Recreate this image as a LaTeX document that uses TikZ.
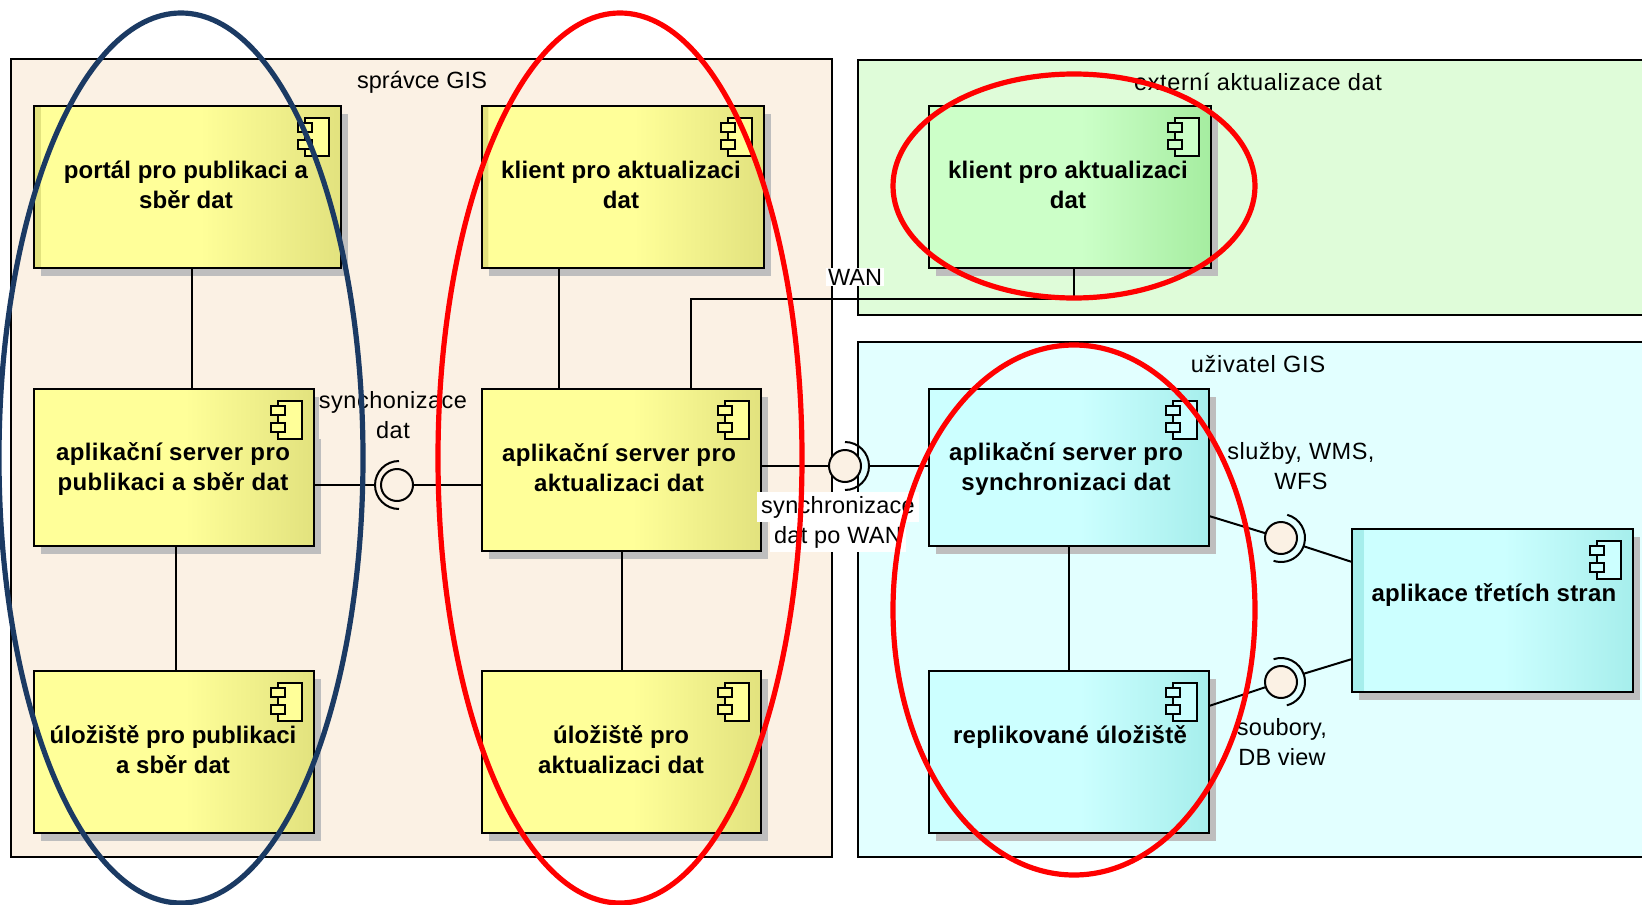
\documentclass[tikz,border=0pt]{standalone}
\usepackage{fontspec}
\setmainfont{Liberation Sans}
\usetikzlibrary{shadows,calc}
\definecolor{framebeige}{HTML}{FBF1E4}
\definecolor{framecyan}{HTML}{E2FFFF}
\definecolor{framegreen}{HTML}{DFFCD9}
\definecolor{yelA}{HTML}{FFFF99}
\definecolor{yelB}{HTML}{E2E27E}
\definecolor{cyaA}{HTML}{CCFFFF}
\definecolor{cyaB}{HTML}{A6EEEC}
\definecolor{greA}{HTML}{CCFFC8}
\definecolor{greB}{HTML}{A5EDA0}
\definecolor{shgray}{HTML}{BEBEBE}
\definecolor{navyring}{HTML}{1B3A63}
\pgfdeclarehorizontalshading{yelshade}{100bp}{color(0bp)=(yelA); color(52bp)=(yelA); color(75bp)=(yelB); color(100bp)=(yelB)}
\pgfdeclarehorizontalshading{yelstrip}{100bp}{color(0bp)=(yelB); color(26bp)=(yelB); color(26.1bp)=(yelA); color(52bp)=(yelA); color(75bp)=(yelB); color(100bp)=(yelB)}
\pgfdeclarehorizontalshading{cyashade}{100bp}{color(0bp)=(cyaA); color(52bp)=(cyaA); color(75bp)=(cyaB); color(100bp)=(cyaB)}
\pgfdeclarehorizontalshading{cyastrip}{100bp}{color(0bp)=(cyaB); color(27bp)=(cyaB); color(27.1bp)=(cyaA); color(52bp)=(cyaA); color(75bp)=(cyaB); color(100bp)=(cyaB)}
\pgfdeclarehorizontalshading{greshade}{100bp}{color(0bp)=(greA); color(52bp)=(greA); color(75bp)=(greB); color(100bp)=(greB)}
\tikzset{
  frame/.style={draw=black,line width=2.3pt,inner sep=0pt,outer sep=0pt,fill=#1},
  compbox/.style={draw=black,line width=2.6pt,inner sep=0pt,outer sep=0pt,shade,shading=#1,
    drop shadow={shadow xshift=7pt,shadow yshift=-8pt,opacity=1,fill=shgray}},
  comptext/.style={font=\fontsize{24}{30}\selectfont\bfseries\addfontfeature{LetterSpace=#1},align=center,inner sep=0pt,text=black},
  comptext/.default=0.6,
  plaintext/.style={font=\fontsize{23.5}{30}\selectfont\addfontfeature{LetterSpace=#1},align=center,inner sep=0pt,text=black},
  plaintext/.default=0,
  conn/.style={draw=black,line width=2pt},
  iface/.style={circle,draw=black,line width=2pt,fill=framebeige,minimum size=32pt,inner sep=0pt,outer sep=0pt},
  socket/.style={draw=black,line width=2pt},
  iconline/.style={draw=black,line width=2pt,fill=#1},
  ring/.style={draw=#1,line width=5.2pt},
}
% name, x1, y1, x2, y2, shading, icon colour
\newcommand{\comp}[7]{%
  \pgfmathsetmacro{\cx}{(#2+#4)/2}\pgfmathsetmacro{\cy}{(#3+#5)/2}%
  \pgfmathsetmacro{\cw}{#4-#2}\pgfmathsetmacro{\ch}{#5-#3}%
  \node[compbox=#6,minimum width=\cw pt,minimum height=\ch pt] (#1) at (\cx,\cy) {};
  \draw[iconline=#7] ([xshift=-36pt,yshift=-12pt]#1.north east) rectangle ([xshift=-12pt,yshift=-50pt]#1.north east);
  \draw[iconline=#7] ([xshift=-43pt,yshift=-17pt]#1.north east) rectangle ([xshift=-29pt,yshift=-26pt]#1.north east);
  \draw[iconline=#7] ([xshift=-43pt,yshift=-34pt]#1.north east) rectangle ([xshift=-29pt,yshift=-43pt]#1.north east);
}
\begin{document}
\begin{tikzpicture}[x=1pt,y=-1pt]
\path[use as bounding box,clip] (0,0) rectangle (1642,905);
\fill[white] (0,0) rectangle (1642,905);
% frames
\node[frame=framebeige,minimum width=821pt,minimum height=798pt] (fA) at (421.5,458) {};
\node[frame=framegreen,minimum width=802pt,minimum height=255pt] (fB) at (1259,187.5) {};
\node[frame=framecyan,minimum width=802pt,minimum height=515pt] (fC) at (1259,599.5) {};
\node[plaintext=0.3] (fAt) at (422,82) {správce GIS};
\node[plaintext=2.7] (fBt) at (1258,81.5) {externí aktualizace dat};
\node[plaintext=3.3] (fCt) at (1258,364) {uživatel GIS};
% helper coordinates
\coordinate (xportal) at (192,0);
\coordinate (xstore) at (176,0);
\coordinate (xclient) at (559,0);
\coordinate (xwanA) at (691,0);
\coordinate (xwanB) at (1074,0);
\coordinate (ywan) at (0,299);
% interfaces
\node[iface] (iA) at (397,485) {};
\node[iface] (iB) at (845,466) {};
\node[iface] (iC) at (1281,538) {};
\node[iface] (iD) at (1281,682) {};
% components
\comp{portal}{34}{106}{341}{268}{yelstrip}{yelA}
\comp{client}{482}{106}{764}{268}{yelstrip}{yelA}
\comp{extclient}{929}{106}{1211}{268}{greshade}{greA}
\comp{aL}{34}{389}{314}{546}{yelshade}{yelA}
\comp{aC}{482}{389}{761}{551}{yelshade}{yelA}
\comp{aS}{929}{389}{1209}{546}{cyashade}{cyaA}
\comp{sL}{34}{671}{314}{833}{yelshade}{yelA}
\comp{sC}{482}{671}{761}{833}{yelshade}{yelA}
\comp{rep}{929}{671}{1209}{833}{cyashade}{cyaA}
\comp{app}{1352}{529}{1633}{692}{cyastrip}{cyaA}
% connectors
\draw[conn] (portal.south -| xportal) -- (aL.north -| xportal);
\draw[conn] (aL.south -| xstore) -- (sL.north -| xstore);
\draw[conn] (client.south -| xclient) -- (aC.north -| xclient);
\draw[conn] (aC.south) -- (sC.north);
\draw[conn] (aS.south) -- (rep.north);
\draw[conn] (extclient.south -| xwanB) -- (xwanB |- ywan) -- (xwanA |- ywan) -- (aC.north -| xwanA);
\draw[conn] (aL.east |- iA) -- ([xshift=-22pt]iA.center);
\draw[conn] (iA.east) -- (aC.west |- iA);
\draw[conn] (aC.east |- iB) -- (iB.west);
\draw[conn] ([xshift=24pt]iB.center) -- (aS.west |- iB);
\draw[conn] ([yshift=30pt]aS.south east) -- (iC);
\draw[conn] ([shift={(-20:24pt)}]iC.center) -- ([yshift=-33pt]app.north west);
\draw[conn] ([yshift=-35pt]rep.north east) -- (iD);
\draw[conn] ([shift={(20:24pt)}]iD.center) -- ([yshift=33pt]app.south west);
% sockets
\draw[socket] ([xshift=2pt,yshift=24pt]iA.center) arc[start angle=90,end angle=270,radius=24pt];
\draw[socket] ([shift={(90:24pt)}]iB.center) arc[start angle=90,end angle=-90,radius=24pt];
\draw[socket] ([shift={(75:24pt)}]iC.center) arc[start angle=75,end angle=-108,radius=24pt];
\draw[socket] ([shift={(108:24pt)}]iD.center) arc[start angle=108,end angle=-76,radius=24pt];
% component texts
\node[comptext=0.3] (t1) at (186,185) {portál pro publikaci a\\sběr dat};
\node[comptext=0.8] (t2) at (621,185) {klient pro aktualizaci\\dat};
\node[comptext=0.8] (t3) at (1068,185) {klient pro aktualizaci\\dat};
\node[comptext=1.75] (t4) at (173,469.5) {aplikační server pro\\publikaci a sběr dat};
\node[comptext=1.75] (t5) at (619,468) {aplikační server pro\\aktualizaci dat};
\node[comptext=1.75] (t6) at (1066,469.5) {aplikační server pro\\synchronizaci dat};
\node[comptext=0.3] (t7) at (173,750) {úložiště pro publikaci\\a sběr dat};
\node[comptext=0.5] (t8) at (621,750) {úložiště pro\\aktualizaci dat};
\node[comptext=1] (t9) at (1070,737) {replikované úložiště};
\node[comptext=1] (t10) at (1494,595) {aplikace třetích stran};
% connector labels
\node[plaintext=2.2,fill=framebeige] (l1) at (393,415) {synchonizace\\dat};
\node[plaintext,fill=white,inner xsep=2pt,inner ysep=1pt] (l2) at (855,277) {WAN};
\fboxsep=0pt
\node[plaintext=1.2] (l3) at (838,522) {\colorbox{white}{\strut\,synchronizace\,}\\\colorbox{white}{\strut\,dat po WAN\,}};
\node[plaintext=2.2] (l4) at (1301,466) {služby, WMS,\\WFS};
\node[plaintext=1] (l5) at (1282,742) {soubory,\\DB view};
% highlight rings
\draw[ring=navyring] (181,458) ellipse [x radius=182,y radius=445];
\draw[ring=red] (620,458) ellipse [x radius=182,y radius=445];
\draw[ring=red] (1074,186) ellipse [x radius=181,y radius=112];
\draw[ring=red] (1074,610) ellipse [x radius=181,y radius=265];
\end{tikzpicture}
\end{document}
